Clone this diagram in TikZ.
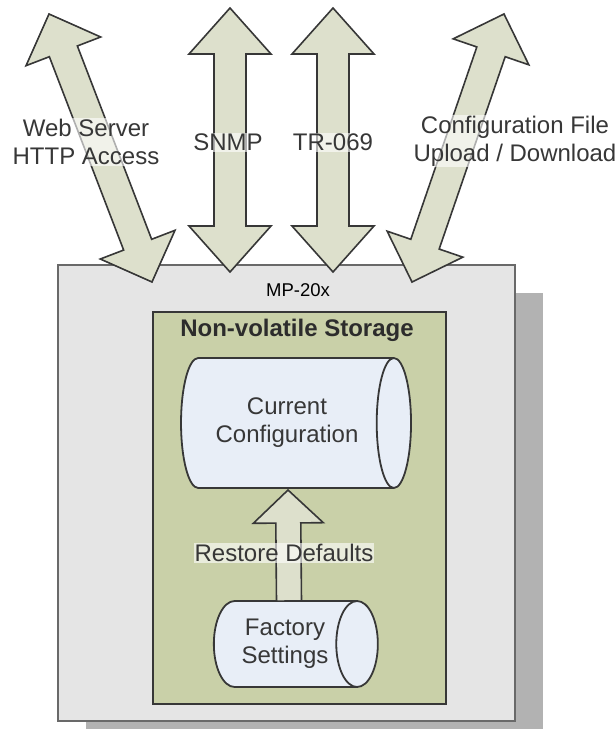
\documentclass[tikz,border=0pt]{standalone}
\usepackage{fontspec}
\setmainfont{Liberation Sans}
\usetikzlibrary{positioning,calc,shapes.geometric,shadows}
\definecolor{arrowfill}{RGB}{221,224,204}
\definecolor{devfill}{RGB}{229,229,229}
\definecolor{shadowc}{RGB}{178,178,178}
\definecolor{storefill}{RGB}{201,208,168}
\definecolor{cylfill}{RGB}{232,238,247}
\definecolor{ink}{RGB}{55,55,55}
\newcommand{\bigtext}{\fontsize{24}{28}\selectfont}
\newcommand{\smalltext}{\fontsize{18.5}{22}\selectfont}
% double block arrow: tip a, tip b, head length, half head, half shaft
\newcommand{\dblarrow}[5]{%
  \coordinate (pa) at ($(#1)!#3!(#2)$);
  \coordinate (pb) at ($(#2)!#3!(#1)$);
  \draw[barrow] (#1) -- ($(pa)!#4!90:(#2)$) -- ($(pa)!#5!90:(#2)$)
    -- ($(pb)!#5!-90:(#1)$) -- ($(pb)!#4!-90:(#1)$) -- (#2)
    -- ($(pb)!#4!90:(#1)$) -- ($(pb)!#5!90:(#1)$)
    -- ($(pa)!#5!-90:(#2)$) -- ($(pa)!#4!-90:(#2)$) -- cycle;}
% single block arrow: tail, tip, head length, half head, half shaft
\newcommand{\onearrow}[5]{%
  \coordinate (pb) at ($(#2)!#3!(#1)$);
  \draw[barrow] ($(#1)!#5!90:(#2)$) -- ($(pb)!#5!-90:(#1)$)
    -- ($(pb)!#4!-90:(#1)$) -- (#2) -- ($(pb)!#4!90:(#1)$)
    -- ($(pb)!#5!90:(#1)$) -- ($(#1)!#5!-90:(#2)$) -- cycle;}
\tikzset{
  barrow/.style={draw=ink,line width=1.6pt,fill=arrowfill,line join=miter},
  devbox/.style={draw=ink!75,line width=1.8pt,fill=devfill,
    drop shadow={shadow xshift=28pt,shadow yshift=-28pt,opacity=1,fill=shadowc}},
  storebox/.style={draw=ink,line width=1.8pt,fill=storefill},
  cyl/.style={shape=cylinder,shape border rotate=0,draw=ink,line width=1.8pt,
    fill=cylfill,align=center,font=\bigtext,text=ink,inner sep=0pt},
  lbl/.style={align=center,font=\bigtext,text=ink,inner sep=1pt,
    fill=white,fill opacity=0.6,text opacity=1},
}
\begin{document}
\begin{tikzpicture}[x=1pt,y=-1pt]
  \useasboundingbox (0,0) rectangle (616,729);
  \node[devbox,minimum width=457pt,minimum height=456pt,anchor=north west] (dev) at (57,264) {};
  \node[font=\smalltext,text=black] (devname) at (298,290) {MP-20x};
  \node[storebox,minimum width=293pt,minimum height=392pt,anchor=north west] (nvs) at (152,311) {};
  \node[font=\bigtext\bfseries,text=ink!80!black] (nvsname) at (297,330) {Non-volatile Storage};
  \node[cyl,minimum height=230pt,minimum width=130pt,aspect=0.69] (cur) at (287,423) {Current\\Configuration};
  \node[cyl,minimum height=164pt,minimum width=86pt,aspect=0.84] (fact) at (285,644) {Factory\\Settings};
  % management access
  \coordinate (web) at (49,14);   \coordinate (webin) at (152,282);
  \coordinate (snmp) at (230,8);  \coordinate (snmpin) at (230,272);
  \coordinate (tr) at (333,8);    \coordinate (trin) at (333,272);
  \coordinate (cfg) at (504,14);  \coordinate (cfgin) at (412,282);
  \dblarrow{web}{webin}{40pt}{40pt}{15pt}
  \dblarrow{snmp}{snmpin}{46pt}{41pt}{16pt}
  \dblarrow{tr}{trin}{46pt}{41pt}{16pt}
  \dblarrow{cfg}{cfgin}{40pt}{40pt}{15pt}
  \node[lbl] (weblbl) at (86,142) {Web Server\\HTTP Access};
  \node[lbl] (snmplbl) at (228,142) {SNMP};
  \node[lbl] (trlbl) at (333,142) {TR-069};
  \node[lbl] (cfglbl) at (515,141) {Configuration File\\Upload / Download};
  % restore
  \coordinate (rdtail) at (289,601); \coordinate (rdtip) at (288,490);
  \onearrow{rdtail}{rdtip}{33pt}{35pt}{12.5pt}
  \node[lbl] (rdlbl) at (284,553) {Restore Defaults};
\end{tikzpicture}
\end{document}
